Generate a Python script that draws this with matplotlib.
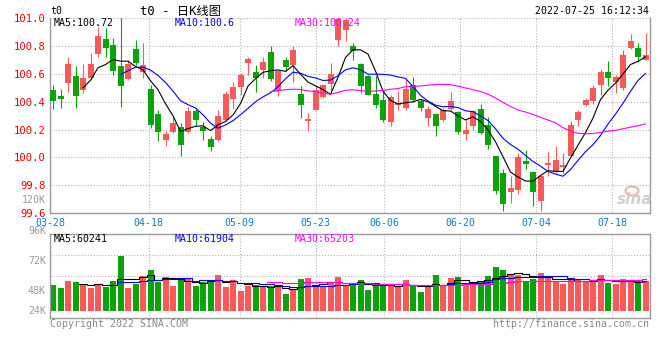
import matplotlib
matplotlib.use('Agg')
import matplotlib.pyplot as plt
import matplotlib.transforms as mtrans
from matplotlib.patches import Ellipse
import numpy as np
import pandas as pd

plt.rcParams['font.family'] = ['DejaVu Sans Mono', 'Noto Sans CJK SC']

# daily candles (open, high, low, close)
opens = [100.486, 100.443, 100.533, 100.586, 100.486, 100.569, 100.740, 100.848, 100.807, 100.657,
         100.564, 100.776, 100.610, 100.490, 100.314, 100.129, 100.183, 100.219, 100.181, 100.331,
         100.219, 100.133, 100.124, 100.267, 100.419, 100.505, 100.681, 100.614, 100.629, 100.757,
         100.474, 100.700, 100.664, 100.457, 100.260, 100.343, 100.433, 100.529, 100.844, 100.916,
         100.800, 100.671, 100.586, 100.457, 100.410, 100.252, 100.374, 100.355, 100.519, 100.407,
         100.283, 100.314, 100.271, 100.348, 100.324, 100.171, 100.229, 100.350, 100.236, 100.010,
         99.886, 99.752, 99.767, 99.974, 99.898, 99.688, 99.948, 99.898, 99.933, 100.010,
         100.271, 100.379, 100.402, 100.521, 100.614, 100.538, 100.498, 100.783, 100.783, 100.700]
highs = [100.521, 100.490, 100.724, 100.657, 100.669, 100.752, 100.938, 100.926, 100.860, 101.000,
         100.700, 100.843, 100.824, 100.521, 100.343, 100.188, 100.290, 100.248, 100.362, 100.355,
         100.252, 100.152, 100.343, 100.474, 100.538, 100.605, 100.724, 100.664, 100.724, 100.800,
         100.629, 100.719, 100.800, 100.510, 100.319, 100.514, 100.529, 100.681, 101.000, 101.000,
         100.819, 100.676, 100.593, 100.581, 100.474, 100.450, 100.474, 100.569, 100.576, 100.419,
         100.367, 100.319, 100.355, 100.467, 100.331, 100.271, 100.343, 100.386, 100.290, 100.010,
         99.914, 99.867, 100.033, 100.057, 99.902, 99.867, 100.038, 100.086, 100.033, 100.260,
         100.338, 100.426, 100.521, 100.633, 100.695, 100.593, 100.771, 100.886, 100.819, 100.895]
lows = [100.348, 100.352, 100.469, 100.352, 100.462, 100.562, 100.724, 100.724, 100.593, 100.362,
        100.552, 100.664, 100.569, 100.212, 100.117, 100.081, 100.176, 100.014, 100.176, 100.224,
        100.124, 100.045, 100.117, 100.260, 100.348, 100.450, 100.593, 100.467, 100.569, 100.545,
        100.443, 100.617, 100.538, 100.281, 100.188, 100.338, 100.426, 100.486, 100.800, 100.833,
        100.700, 100.462, 100.450, 100.352, 100.252, 100.224, 100.343, 100.343, 100.395, 100.331,
        100.229, 100.152, 100.252, 100.338, 100.171, 100.129, 100.200, 100.171, 100.062, 99.736,
        99.617, 99.676, 99.736, 99.919, 99.652, 99.617, 99.867, 99.890, 99.890, 100.010,
        100.224, 100.367, 100.386, 100.450, 100.514, 100.462, 100.486, 100.776, 100.688, 100.700]
closes = [100.402, 100.419, 100.669, 100.438, 100.569, 100.671, 100.871, 100.783, 100.617, 100.510,
          100.671, 100.681, 100.660, 100.231, 100.186, 100.171, 100.248, 100.093, 100.336, 100.271,
          100.188, 100.076, 100.300, 100.457, 100.505, 100.593, 100.705, 100.567, 100.683, 100.564,
          100.621, 100.652, 100.771, 100.379, 100.279, 100.486, 100.519, 100.600, 100.990, 100.988,
          100.767, 100.514, 100.450, 100.379, 100.267, 100.433, 100.390, 100.493, 100.414, 100.352,
          100.350, 100.224, 100.338, 100.402, 100.181, 100.200, 100.336, 100.176, 100.093, 99.760,
          99.664, 99.783, 100.002, 99.950, 99.752, 99.867, 99.957, 99.979, 99.945, 100.236,
          100.324, 100.410, 100.498, 100.610, 100.571, 100.579, 100.736, 100.836, 100.724, 100.736]
# volume in thousands
volumes = [52.7, 46.6, 61.0, 58.9, 52.1, 46.6, 54.8, 49.3, 61.0, 113.0,
           46.6, 55.5, 71.2, 83.6, 58.9, 69.2, 50.7, 63.0, 67.1, 50.7,
           58.9, 63.0, 73.3, 48.6, 63.0, 40.4, 50.7, 52.7, 48.6, 50.7,
           48.6, 34.2, 42.5, 65.1, 67.1, 52.7, 48.6, 58.9, 69.2, 52.7,
           52.7, 63.0, 42.5, 56.8, 50.7, 54.8, 48.6, 63.0, 50.7, 38.4,
           52.7, 73.3, 50.7, 67.1, 69.2, 54.8, 58.9, 58.9, 71.2, 89.7,
           83.6, 75.3, 73.3, 61.0, 65.1, 77.4, 67.1, 58.9, 54.8, 67.1,
           63.0, 61.0, 58.9, 73.3, 56.8, 54.8, 65.1, 63.0, 61.0, 61.0]

holidays = ['2022-04-04', '2022-04-05', '2022-05-02', '2022-05-03', '2022-05-04', '2022-06-03']
days = pd.bdate_range('2022-03-28', '2022-07-25')
days = days[~days.isin(pd.to_datetime(holidays))]
date_labels = ['03-28', '04-18', '05-09', '05-23', '06-06', '06-20', '07-04', '07-18']
price_ticks = [99.6, 99.8, 100.0, 100.2, 100.4, 100.6, 100.8, 101.0]
vol_labels = ['120K', '96K', '72K', '48K', '24K']

title = 't0 - 日K线图'
stamp = '2022-07-25 16:12:34'
price_ma_text = ['MA5:100.72', 'MA10:100.6', 'MA30:100.24']
vol_ma_text = ['MA5:60241', 'MA10:61904', 'MA30:65203']

RED = '#fb5858'
GREEN = '#0aa30a'
GRID = '#b4b4b4'
EDGE = '#9a9a9a'
ma_colors = ['black', '#0000ff', '#ff00ff']

o = np.array(opens); h = np.array(highs); l = np.array(lows); c = np.array(closes)
v = np.array(volumes)
n = len(o)
x = np.arange(n)
col = np.where(c >= o, RED, GREEN)

fig = plt.figure(figsize=(6.6, 3.6), dpi=100)
W, H = 660.0, 360.0


def fx(px):
    return px / W


def fy(py):
    return 1 - py / H


ax = fig.add_axes([fx(50), fy(213.3), 600 / W, (213.3 - 18) / H])
axv = fig.add_axes([fx(50), fy(318), 600 / W, (318 - 234.3) / H])

tick_pos = [days.get_loc(pd.Timestamp('2022-' + d)) for d in date_labels]
grid_x = [-0.4 + i * n / (n - 1) for i in tick_pos]

for a in (ax, axv):
    a.set_xlim(-0.4, n - 0.4)
    a.set_xticks([])
    for s in a.spines.values():
        s.set_color(EDGE)
        s.set_linewidth(1)
    for gx in grid_x[1:]:
        a.axvline(gx, color=GRID, lw=0.8, ls=(0, (1, 1.6)), zorder=0)

# price panel
ax.set_ylim(99.6, 101.0)
ax.spines['top'].set_visible(False)
for p in price_ticks[1:]:
    ax.axhline(p, color=GRID, lw=0.8, ls=(0, (1, 1.6)), zorder=0)
ax.set_yticks(price_ticks)
ax.set_yticklabels(['%.1f' % p for p in price_ticks], color='#e80000', fontsize=7.6)
ax.tick_params(axis='y', length=0, pad=3)

ax.vlines(x, l, h, colors=col, lw=0.8, zorder=2)
ax.bar(x, np.maximum(np.abs(c - o), 0.006), bottom=np.minimum(o, c), width=0.8,
       color=col, linewidth=0, zorder=3)
for w, mc in zip([5, 10, 30], ma_colors):
    ax.plot(x, pd.Series(c).rolling(w).mean(), color=mc, lw=0.8, zorder=4)

# volume panel
axv.set_ylim(-14.4, 156.8)
axv.set_yticks([])
for fr in (0.25, 0.5, 0.75):
    axv.axhline(-14.4 + fr * 171.2, color=GRID, lw=0.8, ls=(0, (1, 1.6)), zorder=0)
axv.bar(x, v, width=0.8, color=col, linewidth=0, zorder=2)
for w, mc in zip([5, 10, 30], ma_colors):
    axv.plot(x, pd.Series(v).rolling(w).mean(), color=mc, lw=0.8, drawstyle='steps-mid', zorder=3)

# texts
fs = 7.1
fig.text(fx(50), fy(11.5), 't0', fontsize=fs, va='center', ha='left')
fig.text(fx(140), fy(11), title, fontsize=8.8, va='center', ha='left')
fig.text(fx(649), fy(11.5), stamp, fontsize=fs, va='center', ha='right')
for t, mc, px in zip(price_ma_text, ma_colors, [54, 175, 295]):
    fig.text(fx(px), fy(23.5), t, fontsize=fs, color=mc, va='center', ha='left')
for t, mc, px in zip(vol_ma_text, ma_colors, [54, 175, 295]):
    fig.text(fx(px), fy(238.5), t, fontsize=fs, color=mc, va='center', ha='left')

date_tr = mtrans.blended_transform_factory(ax.transData, fig.transFigure)
for gx, d in zip(grid_x, date_labels):
    fig.text(gx, fy(222.5), d, transform=date_tr, fontsize=fs, color='#0a7ad6',
             ha='center', va='center')

for t, py in zip(vol_labels, [200, 231, 261, 291, 311]):
    fig.text(fx(46), fy(py), t, fontsize=fs, color='#999999', ha='right', va='center')

fig.text(fx(50), fy(324), 'Copyright 2022 SINA.COM', fontsize=fs, color='#888888',
         ha='left', va='center')
fig.text(fx(649), fy(324), 'http://finance.sina.com.cn', fontsize=fs, color='#888888',
         ha='right', va='center')

# sina watermark
fig.patches.append(Ellipse((fx(632), fy(191)), 13 / W, 9 / H, transform=fig.transFigure,
                           facecolor='none', edgecolor='#f0b0b0', lw=1.5))
fig.text(fx(635), fy(200), 'sina', fontsize=11, fontweight='bold', style='italic',
         color='#cfcfcf', ha='center', va='center', family='DejaVu Sans')

fig.savefig('out.png', dpi=100)
